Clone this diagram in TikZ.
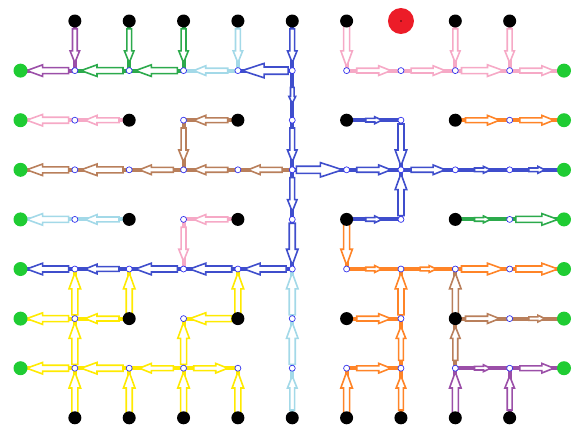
\documentclass[tikz,border=0pt]{standalone}
\usetikzlibrary{backgrounds,decorations.markings}
\definecolor{TreePurple}{HTML}{9B4FA8}
\definecolor{TreeGreen}{HTML}{2CAA4C}
\definecolor{TreeSky}{HTML}{A3D9E8}
\definecolor{TreeBlue}{HTML}{3F4ECC}
\definecolor{TreePink}{HTML}{F6A9C6}
\definecolor{TreeBrown}{HTML}{B97F5B}
\definecolor{TreeOrange}{HTML}{FF8427}
\definecolor{TreeYellow}{HTML}{FFEA00}
\definecolor{SinkGreen}{HTML}{1FCC33}
\definecolor{RootRed}{HTML}{EC1C28}
\definecolor{JointBlue}{HTML}{3333EE}
% hollow arrow: half length, head length, head half width, shaft half width
\newcommand{\hollowtip}[4]{%
  \draw[draw=\flowcol, fill=white, line width=1.6pt]
    (#1pt,0pt) -- ({#1pt-#2pt},#3pt) -- ({#1pt-#2pt},#4pt) -- (-#1pt,#4pt)
    -- (-#1pt,-#4pt) -- ({#1pt-#2pt},-#4pt) -- ({#1pt-#2pt},-#3pt) -- cycle;}
\tikzset{
  srcdot/.style={circle, fill=black, inner sep=0pt, minimum size=13pt},
  sinkdot/.style={circle, fill=SinkGreen, inner sep=0pt, minimum size=14pt},
  jointdot/.style={circle, draw=JointBlue, fill=white, line width=0.7pt, inner sep=0pt, minimum size=6pt},
  rootdot/.style={circle, fill=RootRed, inner sep=0pt, minimum size=26pt},
  flow/.style={draw=#1, line width=4pt, /utils/exec={\def\flowcol{#1}}},
  sz/.style={postaction={decorate}, decoration={markings, mark=at position 0.5 with {%
    \ifcase#1\or\hollowtip{8}{7}{3.4}{1.8}\or\hollowtip{17}{12}{4.8}{2.4}%
    \or\hollowtip{21}{16}{5.8}{3}\or\hollowtip{23}{22}{7.2}{3.6}\fi}}},
}
\begin{document}
\begin{tikzpicture}[x=54.35pt, y=-49.6pt]
  \useasboundingbox (-0.3772,-0.4234) rectangle (10.2024,8.1855);
  % Sources on the top and bottom rows
  \foreach \i in {1,...,6,8,9} \node[srcdot] (p\i-0) at (\i,0) {};
  \node[rootdot] (p7-0) at (7,0) {};
  \fill[black!70!RootRed] (p7-0.center) circle (0.9pt);
  \foreach \i in {1,...,9} \node[srcdot] (p\i-8) at (\i,8) {};
  % Sinks on both sides
  \foreach \j in {1,...,7} {
    \node[sinkdot] (p0-\j) at (0,\j) {};
    \node[sinkdot] (p10-\j) at (10,\j) {};
  }
  % Inner grid: sources at even/even, joints elsewhere
  \foreach \i in {1,...,9}
    \foreach \j in {1,...,7} {
      \pgfmathparse{int(mod(\i,2)+mod(\j,2))}
      \ifnum\pgfmathresult=0 \node[srcdot] (p\i-\j) at (\i,\j) {};
      \else \node[jointdot] (p\i-\j) at (\i,\j) {};\fi
    }
  % Flow edges, coloured by tree
  \begin{scope}[on background layer]
    \foreach \s/\t/\z in {1-0/1-1/2, 1-1/0-1/3, 8-8/8-7/3, 8-7/9-7/1, 9-8/9-7/2, 9-7/10-7/2}
      \draw[flow=TreePurple, sz=\z] (p\s.center) -- (p\t.center);
    \foreach \s/\t/\z in {2-0/2-1/2, 2-1/1-1/3, 3-0/3-1/2, 3-1/2-1/3, 8-4/9-4/1, 9-4/10-4/3}
      \draw[flow=TreeGreen, sz=\z] (p\s.center) -- (p\t.center);
    \foreach \s/\t/\z in {4-0/4-1/2, 4-1/3-1/2, 2-4/1-4/2, 1-4/0-4/3, 5-8/5-7/2, 5-7/5-6/3, 5-6/5-5/3}
      \draw[flow=TreeSky, sz=\z] (p\s.center) -- (p\t.center);
    \foreach \s/\t/\z in {5-0/5-1/2, 5-1/4-1/4, 5-1/5-2/1, 5-2/5-3/2, 5-3/5-4/2, 5-4/5-5/3,
        5-3/6-3/4, 6-3/7-3/2, 7-3/8-3/2, 8-3/9-3/1, 9-3/10-3/1, 6-2/7-2/1, 7-2/7-3/3,
        6-4/7-4/1, 7-4/7-3/3, 5-5/4-5/3, 4-5/3-5/3, 3-5/2-5/3, 2-5/1-5/2, 1-5/0-5/3}
      \draw[flow=TreeBlue, sz=\z] (p\s.center) -- (p\t.center);
    \foreach \s/\t/\z in {6-0/6-1/3, 6-1/7-1/2, 7-1/8-1/2, 8-0/8-1/2, 8-1/9-1/3, 9-0/9-1/2,
        9-1/10-1/2, 2-2/1-2/2, 1-2/0-2/3, 4-4/3-4/2, 3-4/3-5/2}
      \draw[flow=TreePink, sz=\z] (p\s.center) -- (p\t.center);
    \foreach \s/\t/\z in {4-2/3-2/2, 3-2/3-3/2, 5-3/4-3/2, 4-3/3-3/2, 3-3/2-3/2, 2-3/1-3/3,
        1-3/0-3/3, 8-6/8-5/3, 8-7/8-6/2, 8-6/9-6/2, 9-6/10-6/1}
      \draw[flow=TreeBrown, sz=\z] (p\s.center) -- (p\t.center);
    \foreach \s/\t/\z in {8-2/9-2/2, 9-2/10-2/2, 6-4/6-5/3, 6-5/7-5/1, 7-5/8-5/1, 8-5/9-5/3,
        9-5/10-5/3, 7-6/7-5/3, 7-7/7-6/2, 7-8/7-7/2, 6-6/7-6/2, 6-8/6-7/3, 6-7/7-7/2}
      \draw[flow=TreeOrange, sz=\z] (p\s.center) -- (p\t.center);
    \foreach \s/\t/\z in {1-6/1-5/3, 2-6/2-5/3, 4-6/4-5/3, 2-6/1-6/2, 1-6/0-6/3, 4-6/3-6/3,
        3-7/3-6/3, 1-7/1-6/3, 1-8/1-7/3, 3-8/3-7/3, 2-8/2-7/3, 4-8/4-7/3, 1-7/0-7/3,
        2-7/1-7/3, 3-7/2-7/2, 3-7/4-7/2}
      \draw[flow=TreeYellow, sz=\z] (p\s.center) -- (p\t.center);
  \end{scope}
\end{tikzpicture}
\end{document}
